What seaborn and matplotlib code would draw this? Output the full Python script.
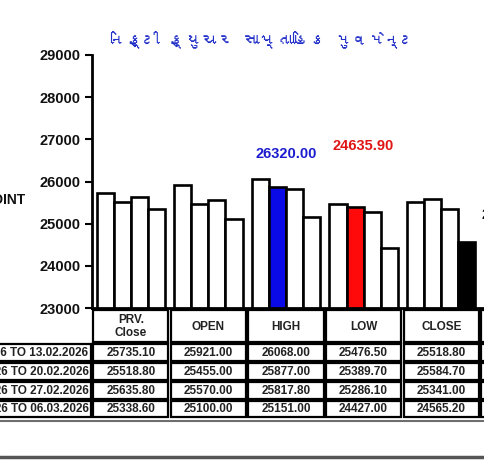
import matplotlib
matplotlib.use("Agg")
import matplotlib.pyplot as plt
from matplotlib.patches import Rectangle
from matplotlib.lines import Line2D
from matplotlib import font_manager
from matplotlib.ft2font import FT2Font
import seaborn as sns
import pandas as pd

# ---- data ----
categories = ["PRV.\nClose", "OPEN", "HIGH", "LOW", "CLOSE"]
weeks = ["09.02.2026 TO 13.02.2026", "16.02.2026 TO 20.02.2026",
         "23.02.2026 TO 27.02.2026", "02.03.2026 TO 06.03.2026"]
prv_close = [25735.10, 25518.80, 25635.80, 25338.60]
open_ = [25921.00, 25455.00, 25570.00, 25100.00]
high = [26068.00, 25877.00, 25817.80, 25151.00]
low = [25476.50, 25389.70, 25286.10, 24427.00]
close = [25518.80, 25584.70, 25341.00, 24565.20]
title = "નિફ્ટી ફ્યુચર સાપ્તાહિક મુવમેન્ટ"
notes = ["26320.00", "24635.90", "24565.20"]


def find_font(ch, fallback="DejaVu Sans"):
    for f in font_manager.fontManager.ttflist:
        try:
            if ord(ch) in FT2Font(f.fname).get_charmap():
                return f.name
        except Exception:
            pass
    return fallback


series = [prv_close, open_, high, low, close]
rows = []
for cat, vals in zip(categories, series):
    for wk, v in zip(weeks, vals):
        rows.append({"Category": cat, "Week": wk, "Value": v})
df = pd.DataFrame(rows)

sns.set_theme(style="white")
plt.rcParams["font.family"] = ["Liberation Sans", "DejaVu Sans"]

W, H = 484, 467
fig = plt.figure(figsize=(W / 100, H / 100), dpi=100)
fig.patch.set_facecolor("white")

px_cat = 77.6
left_px, top_px, bot_px = 92, 55, 308
ax = fig.add_axes([left_px / W, 1 - bot_px / H, 6 * px_cat / W, (bot_px - top_px) / H])

sns.barplot(data=df, x="Category", y="Value", hue="Week", order=categories,
            hue_order=weeks, palette=["white"] * 4, width=0.88, legend=False,
            edgecolor="black", linewidth=1.9, saturation=1, ax=ax)

# highlighted bars
ax.containers[1][2].set_facecolor("#0a0ae6")
ax.containers[1][3].set_facecolor("#ff0a0a")
ax.containers[3][4].set_facecolor("black")

ax.set_xlim(-0.5, 5.5)
ax.set_ylim(23000, 29000)
ax.set_yticks(range(23000, 29001, 1000))
ax.set_xticks([])
ax.set_xlabel("")
ax.set_ylabel("")
for lab in ax.get_yticklabels():
    lab.set_fontweight("bold")
    lab.set_fontsize(10.5)
    lab.set_color("#111111")
ax.tick_params(axis="y", left=True, length=5, width=1.5, color="black", pad=3)
sns.despine(ax=ax, top=True, right=True)
ax.spines["left"].set_linewidth(2)
ax.spines["left"].set_color("black")
ax.spines["bottom"].set_linewidth(2)
ax.spines["bottom"].set_color("black")
ax.set_facecolor("white")

ax.text(2, 26650, notes[0], color="#1c1ccf", fontsize=10.5, fontweight="bold",
        ha="center", va="center")
ax.text(3, 26840, notes[1], color="#e01515", fontsize=10.5, fontweight="bold",
        ha="center", va="center")
ax.text(4.52, 25200, notes[2], color="black", fontsize=10.5, fontweight="bold",
        ha="left", va="center")

fig.text(25 / W, 1 - 200 / H, "POINT", fontsize=10, fontweight="bold",
         ha="right", va="center", color="#111111")

guj = find_font(title[0])
fig.text(264 / W, 1 - 40 / H, title, color="#2230c8", fontsize=12,
         ha="center", va="center", family=[guj, "DejaVu Sans"])

# ---- data table under the chart ----
tab_h = 112
tax = fig.add_axes([left_px / W, 1 - (bot_px + tab_h) / H, 6 * px_cat / W, tab_h / H])
tax.set_xlim(-0.5, 5.5)
tax.set_ylim(tab_h, 0)
tax.axis("off")

dx = 1.2 / px_cat
dy = 1.0
row_edges = [1, 35, 54, 73, 92, 110]
headers = categories + [""]
table_vals = series + [[""] * 4]


def cell(x0, x1, y0, y1, text, fs=8.5):
    tax.add_patch(Rectangle((x0 + dx, y0 + dy), (x1 - x0) - 2 * dx, (y1 - y0) - 2 * dy,
                            facecolor="white", edgecolor="black", lw=1.6, clip_on=False))
    if text:
        tax.text((x0 + x1) / 2 if x0 > -1 else x1 - 3 * dx, (y0 + y1) / 2 + 0.5, text,
                 ha="center" if x0 > -1 else "right", va="center", fontsize=fs,
                 fontweight="bold", color="#222222", linespacing=1.15, clip_on=False)


for i, hd in enumerate(headers):
    cell(i - 0.5, i + 0.5, row_edges[0], row_edges[1], hd)
    for r in range(4):
        v = table_vals[i][r]
        cell(i - 0.5, i + 0.5, row_edges[r + 1], row_edges[r + 2],
             f"{v:.2f}" if v != "" else "")
for r, wk in enumerate(weeks):
    cell(-2.6, -0.5, row_edges[r + 1], row_edges[r + 2], wk)

# screenshot frame lines at the bottom
fig.add_artist(Line2D([0, 1], [1 - 420.5 / H] * 2, color="#6e6e6e", lw=1.5))
fig.add_artist(Line2D([0, 1], [1 - 456.5 / H] * 2, color="#555555", lw=2.5))

fig.savefig("out.png", dpi=100)
